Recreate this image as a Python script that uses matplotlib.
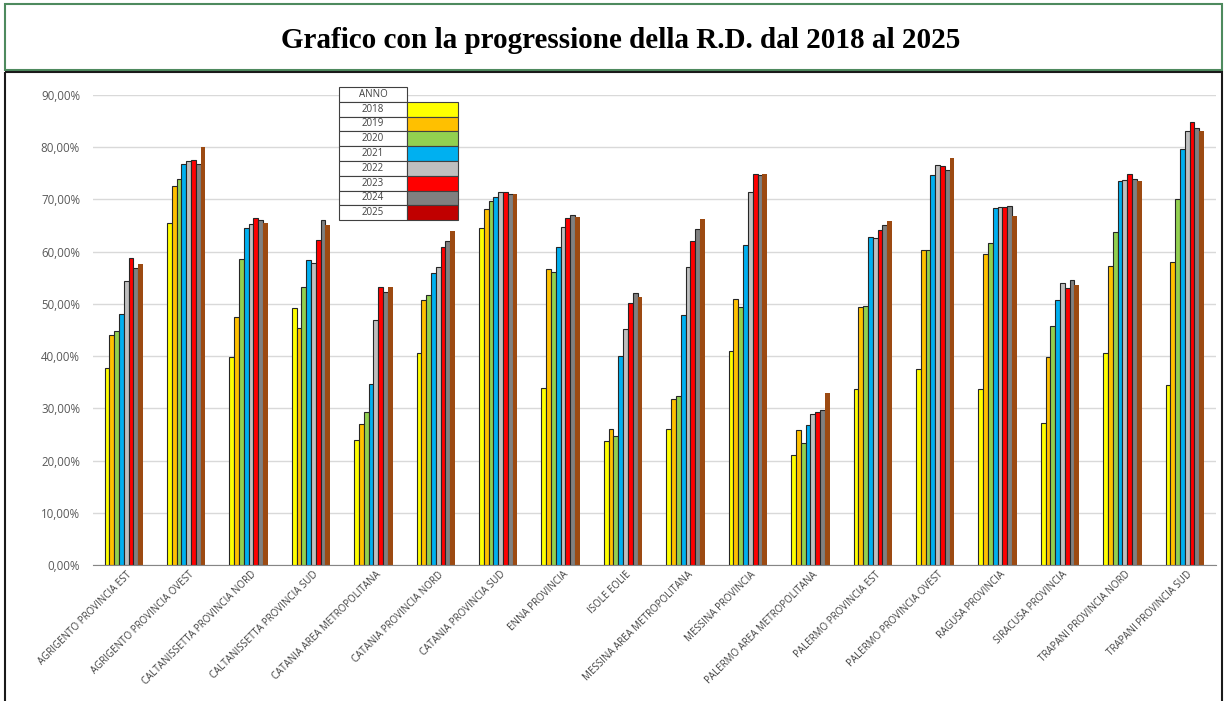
import numpy as np
import matplotlib
matplotlib.use("Agg")
import matplotlib.pyplot as plt
from matplotlib.patches import Rectangle
from matplotlib.transforms import ScaledTranslation

# categorie (zone) e anni
zone = [
    "AGRIGENTO PROVINCIA EST", "AGRIGENTO PROVINCIA OVEST", "CALTANISSETTA PROVINCIA NORD",
    "CALTANISSETTA PROVINCIA SUD", "CATANIA AREA METROPOLITANA", "CATANIA PROVINCIA NORD",
    "CATANIA PROVINCIA SUD", "ENNA PROVINCIA", "ISOLE EOLIE",
    "MESSINA AREA METROPOLITANA", "MESSINA PROVINCIA", "PALERMO AREA METROPOLITANA",
    "PALERMO PROVINCIA EST", "PALERMO PROVINCIA OVEST", "RAGUSA PROVINCIA",
    "SIRACUSA PROVINCIA", "TRAPANI PROVINCIA NORD", "TRAPANI PROVINCIA SUD",
]
anni = ["2018", "2019", "2020", "2021", "2022", "2023", "2024", "2025"]

# percentuali di raccolta differenziata
rd_2018 = [37.7, 65.5, 39.9, 49.3, 24.0, 40.6, 64.5, 33.8, 23.8, 26.0, 40.9, 21.0, 33.7, 37.5, 33.7, 27.1, 40.6, 34.4]
rd_2019 = [44.1, 72.5, 47.4, 45.3, 27.0, 50.7, 68.2, 56.7, 26.0, 31.8, 50.9, 25.8, 49.4, 60.4, 59.5, 39.8, 57.3, 58.0]
rd_2020 = [44.8, 73.9, 58.6, 53.2, 29.3, 51.7, 69.7, 56.1, 24.7, 32.3, 49.4, 23.4, 49.6, 60.4, 61.7, 45.7, 63.8, 70.1]
rd_2021 = [48.1, 76.8, 64.5, 58.4, 34.7, 56.0, 70.4, 60.9, 40.0, 47.8, 61.3, 26.8, 62.8, 74.6, 68.4, 50.8, 73.6, 79.6]
rd_2022 = [54.3, 77.3, 65.3, 57.8, 46.9, 57.1, 71.5, 64.7, 45.1, 57.1, 71.5, 29.0, 62.6, 76.6, 68.5, 54.0, 73.8, 83.1]
rd_2023 = [58.8, 77.5, 66.5, 62.3, 53.2, 60.9, 71.5, 66.5, 50.2, 62.1, 74.9, 29.3, 64.2, 76.4, 68.5, 53.0, 74.9, 84.9]
rd_2024 = [56.8, 76.8, 66.0, 66.0, 52.2, 62.1, 71.0, 67.1, 52.0, 64.3, 74.7, 29.6, 65.1, 75.7, 68.8, 54.6, 73.9, 83.6]
rd_2025 = [57.7, 80.1, 65.5, 65.1, 53.2, 64.0, 71.1, 66.7, 51.3, 66.3, 74.8, 32.9, 65.8, 77.9, 66.9, 53.6, 73.6, 83.1]
serie = [rd_2018, rd_2019, rd_2020, rd_2021, rd_2022, rd_2023, rd_2024, rd_2025]

colori = ["#FFFF00", "#FFC000", "#92D050", "#00B0F0", "#BFBFBF", "#FF0000", "#808080", "#9C4A12"]
colori_legenda = colori[:7] + ["#C00000"]

fig = plt.figure(figsize=(12.26, 7.01), dpi=100)
W, H = 1226, 701

ax = fig.add_axes([92.6 / W, 1 - 565 / H, 1123.4 / W, (565 - 95) / H])

x = np.arange(len(zone))
larg = 0.077
for i, vals in enumerate(serie):
    pos = x + (i - 3.5) * larg
    if i < 7:
        ax.bar(pos, np.array(vals) / 100, width=larg, color=colori[i],
               edgecolor="#262626", linewidth=0.8, zorder=3)
    else:
        ax.bar(pos, np.array(vals) / 100, width=larg, color=colori[i],
               linewidth=0, zorder=3)

ax.set_xlim(-0.5, len(zone) - 0.5)
ax.set_ylim(0, 0.9)
ax.set_yticks(np.arange(0, 0.91, 0.1))
ax.set_yticklabels([f"{v:.2f}%".replace(".", ",") for v in np.arange(0, 91, 10)],
                   fontsize=8.3, color="#595959", family="Open Sans")
ax.yaxis.grid(True, color="#D9D9D9", linewidth=1, zorder=0)
ax.tick_params(axis="y", length=0, pad=9)
ax.tick_params(axis="x", length=0, pad=3)
ax.set_xticks(x)
ax.set_xticklabels(zone, rotation=45, ha="right", rotation_mode="anchor",
                   fontsize=7, color="#404040", family="Open Sans")
sposta = ScaledTranslation(2 / 100, 0, fig.dpi_scale_trans)
for lab in ax.get_xticklabels():
    lab.set_transform(lab.get_transform() + sposta)
for s in ["top", "right", "left"]:
    ax.spines[s].set_visible(False)
ax.spines["bottom"].set_color("#868686")
ax.spines["bottom"].set_zorder(4)

# livello sovrapposto in pixel per cornici, titolo e tabella legenda
ov = fig.add_axes([0, 0, 1, 1], zorder=10)
ov.set_xlim(0, W)
ov.set_ylim(H, 0)
ov.axis("off")
ov.patch.set_alpha(0)

ov.add_patch(Rectangle((5, 4), 1217, 66, fill=False, edgecolor="#4E8A5E", linewidth=1.5))
ov.add_patch(Rectangle((5, 72), 1217, 700, fill=False, edgecolor="#1A1A1A", linewidth=1.5))
ov.text(621, 41, "Grafico con la progressione della R.D. dal 2018 al 2025",
        ha="center", va="center", fontsize=21, fontweight="bold", family="Liberation Serif")

# tabella legenda
lx0, lx1, lx2 = 339, 407, 458
ry = 87
rh = 14.8
ov.add_patch(Rectangle((lx0, ry), lx1 - lx0, rh, facecolor="white", edgecolor="#404040", linewidth=0.8))
ov.text((lx0 + lx1) / 2, ry + rh / 2, "ANNO", ha="center", va="center",
        fontsize=7, color="#404040", family="Open Sans")
for i, a in enumerate(anni):
    y0 = ry + rh * (i + 1)
    ov.add_patch(Rectangle((lx0, y0), lx1 - lx0, rh, facecolor="white", edgecolor="#404040", linewidth=0.8))
    ov.add_patch(Rectangle((lx1, y0), lx2 - lx1, rh, facecolor=colori_legenda[i], edgecolor="#404040", linewidth=0.8))
    ov.text((lx0 + lx1) / 2, y0 + rh / 2, a, ha="center", va="center",
            fontsize=7, color="#404040", family="Open Sans")

fig.savefig("out.png", dpi=100)
